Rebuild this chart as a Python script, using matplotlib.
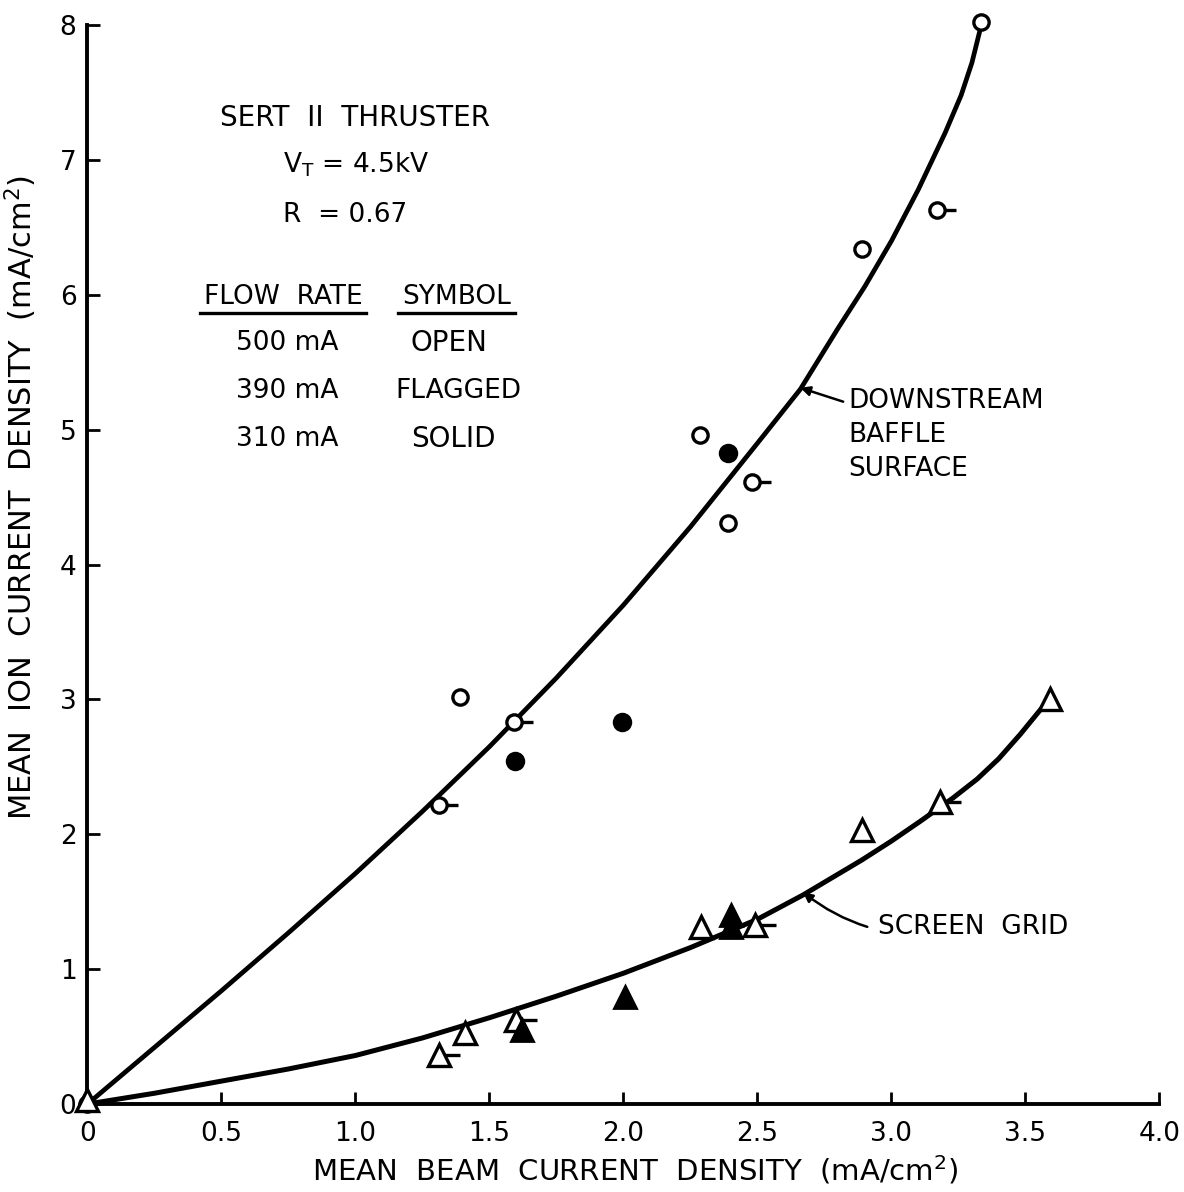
import matplotlib
matplotlib.use("Agg")
import matplotlib.pyplot as plt
from matplotlib.path import Path

plt.rcParams['font.family'] = ['DejaVu Sans']

# ---- data ----
# Downstream baffle surface (circles)
baffle_open_x = [0.0, 1.39, 2.285, 2.39, 2.89, 3.335]
baffle_open_y = [0.0, 3.02, 4.96, 4.31, 6.34, 8.02]
baffle_flag_x = [1.31, 1.59, 2.48, 3.17]
baffle_flag_y = [2.22, 2.83, 4.61, 6.63]
baffle_solid_x = [1.595, 1.995, 2.39]
baffle_solid_y = [2.54, 2.83, 4.83]

# Screen grid (triangles)
grid_open_x = [0.0, 1.41, 2.29, 2.89, 3.59]
grid_open_y = [0.03, 0.53, 1.31, 2.03, 3.00]
grid_flag_x = [1.31, 1.60, 2.49, 3.18]
grid_flag_y = [0.36, 0.62, 1.33, 2.24]
grid_solid_x = [1.62, 2.005, 2.40, 2.40]
grid_solid_y = [0.55, 0.79, 1.40, 1.31]

# Faired curves
baffle_curve_x = [0.0, 0.25, 0.5, 0.75, 1.0, 1.25, 1.5, 1.75, 2.0, 2.25, 2.5, 2.66,
                  2.8, 2.9, 3.0, 3.1, 3.2, 3.26, 3.30, 3.335]
baffle_curve_y = [0.0, 0.42, 0.84, 1.27, 1.71, 2.17, 2.65, 3.16, 3.70, 4.28, 4.90, 5.30,
                  5.75, 6.06, 6.40, 6.78, 7.20, 7.48, 7.72, 8.0]
grid_curve_x = [0.0, 0.25, 0.5, 0.75, 1.0, 1.25, 1.5, 1.75, 2.0, 2.25, 2.5, 2.67,
                2.89, 3.0, 3.11, 3.23, 3.32, 3.40, 3.48, 3.55, 3.59]
grid_curve_y = [0.0, 0.08, 0.17, 0.26, 0.36, 0.49, 0.64, 0.80, 0.97, 1.16, 1.37, 1.55,
                1.81, 1.95, 2.10, 2.27, 2.41, 2.56, 2.74, 2.91, 3.0]

x_ticks = [0, 0.5, 1.0, 1.5, 2.0, 2.5, 3.0, 3.5, 4.0]
x_tick_labels = ['0', '0.5', '1.0', '1.5', '2.0', '2.5', '3.0', '3.5', '4.0']
y_ticks = [0, 1, 2, 3, 4, 5, 6, 7, 8]
y_tick_labels = ['0', '1', '2', '3', '4', '5', '6', '7', '8']

fig = plt.figure(figsize=(11.84, 11.92), dpi=100)
ax = fig.add_axes([0.0739, 0.0738, 0.9054, 0.9052])
ax.set_xlim(0, 4.0)
ax.set_ylim(0, 8.0)

for s in ['top', 'right']:
    ax.spines[s].set_visible(False)
for s in ['left', 'bottom']:
    ax.spines[s].set_linewidth(2.8)
    ax.spines[s].set_color('black')

ax.set_xticks(x_ticks)
ax.set_xticklabels(x_tick_labels)
ax.set_yticks(y_ticks)
ax.set_yticklabels(y_tick_labels)
ax.tick_params(axis='both', direction='in', length=9, width=2, labelsize=19)
ax.tick_params(axis='x', pad=12)
ax.tick_params(axis='y', pad=8)

ax.set_xlabel('MEAN  BEAM  CURRENT  DENSITY  (mA/cm$^\\mathregular{2}$)', fontsize=21)
ax.xaxis.set_label_coords(0.511, -0.061)
ax.xaxis.label.set_va('center')
ax.set_ylabel('MEAN  ION  CURRENT  DENSITY  (mA/cm$^\\mathregular{2}$)', fontsize=22)
ax.yaxis.set_label_coords(-0.062, 0.562)
ax.yaxis.label.set_va('center')

# curves
ax.plot(baffle_curve_x, baffle_curve_y, color='black', lw=3.4, zorder=2, clip_on=False,
        solid_capstyle='round', solid_joinstyle='round')
ax.plot(grid_curve_x, grid_curve_y, color='black', lw=3.6, zorder=2, clip_on=False,
        solid_capstyle='round', solid_joinstyle='round')

# flag marker: horizontal stroke from the centre to the right
flag = Path([(0, 0), (1, 0)], [Path.MOVETO, Path.LINETO])

ms_c = 11
ms_t = 16
# flags (under the symbols)
ax.plot(baffle_flag_x, baffle_flag_y, ls='none', marker=flag, ms=28, mew=2.4,
        color='black', zorder=3, clip_on=False)
ax.plot(grid_flag_x, grid_flag_y, ls='none', marker=flag, ms=30, mew=2.4,
        color='black', zorder=3, clip_on=False)

# circles
ax.plot(baffle_open_x + baffle_flag_x, baffle_open_y + baffle_flag_y, ls='none', marker='o',
        ms=ms_c, mfc='white', mec='black', mew=2.4, zorder=4, clip_on=False)
ax.plot(baffle_solid_x, baffle_solid_y, ls='none', marker='o', ms=ms_c + 1,
        mfc='black', mec='black', mew=2.0, zorder=4, clip_on=False)
# triangles
ax.plot(grid_open_x + grid_flag_x, grid_open_y + grid_flag_y, ls='none', marker='^',
        ms=ms_t, mfc='white', mec='black', mew=2.4, zorder=4, clip_on=False)
ax.plot(grid_solid_x, grid_solid_y, ls='none', marker='^', ms=ms_t,
        mfc='black', mec='black', mew=2.0, zorder=5, clip_on=False)

# text block
tk = dict(fontsize=19, ha='center', va='center', transform=ax.transAxes)
def axfrac(px, py):
    return ((px - 87.5) / 1072.0, (1104 - py) / 1079.0)

ax.text(*axfrac(355, 118), 'SERT  II  THRUSTER', **dict(tk, fontsize=20))
ax.text(*axfrac(283, 165), 'V$_\\mathregular{T}$ = 4.5kV', **dict(tk, ha='left'))
ax.text(*axfrac(283, 215), 'R  = 0.67', **dict(tk, ha='left'))
ax.text(*axfrac(283, 297), 'FLOW  RATE', **tk)
ax.text(*axfrac(457, 297), 'SYMBOL', **tk)
uy = axfrac(0, 313)[1]
ax.plot([axfrac(200, 0)[0], axfrac(366, 0)[0]], [uy, uy], transform=ax.transAxes,
        color='black', lw=2.4)
ax.plot([axfrac(398, 0)[0], axfrac(515, 0)[0]], [uy, uy], transform=ax.transAxes,
        color='black', lw=2.4)
ax.text(*axfrac(287, 343), '500 mA', **tk)
ax.text(*axfrac(287, 391), '390 mA', **tk)
ax.text(*axfrac(287, 439), '310 mA', **tk)
ax.text(*axfrac(449, 343), 'OPEN', **dict(tk, fontsize=20))
ax.text(*axfrac(458, 391), 'FLAGGED', **tk)
ax.text(*axfrac(453, 439), 'SOLID', **dict(tk, fontsize=20))

# annotations
ax.annotate('DOWNSTREAM\nBAFFLE\nSURFACE', xy=(2.66, 5.31), xytext=(2.84, 4.96),
            fontsize=19, ha='left', va='center', linespacing=1.38,
            arrowprops=dict(arrowstyle='-|>', color='black', lw=1.8, mutation_scale=14,
                            shrinkA=2, shrinkB=0))
ax.annotate('SCREEN  GRID', xy=(2.67, 1.57), xytext=(2.95, 1.31),
            fontsize=19, ha='left', va='center',
            arrowprops=dict(arrowstyle='-|>', color='black', lw=1.8, mutation_scale=14,
                            shrinkA=6, shrinkB=0, connectionstyle='arc3,rad=-0.25'))

fig.savefig('out.png', dpi=100)
